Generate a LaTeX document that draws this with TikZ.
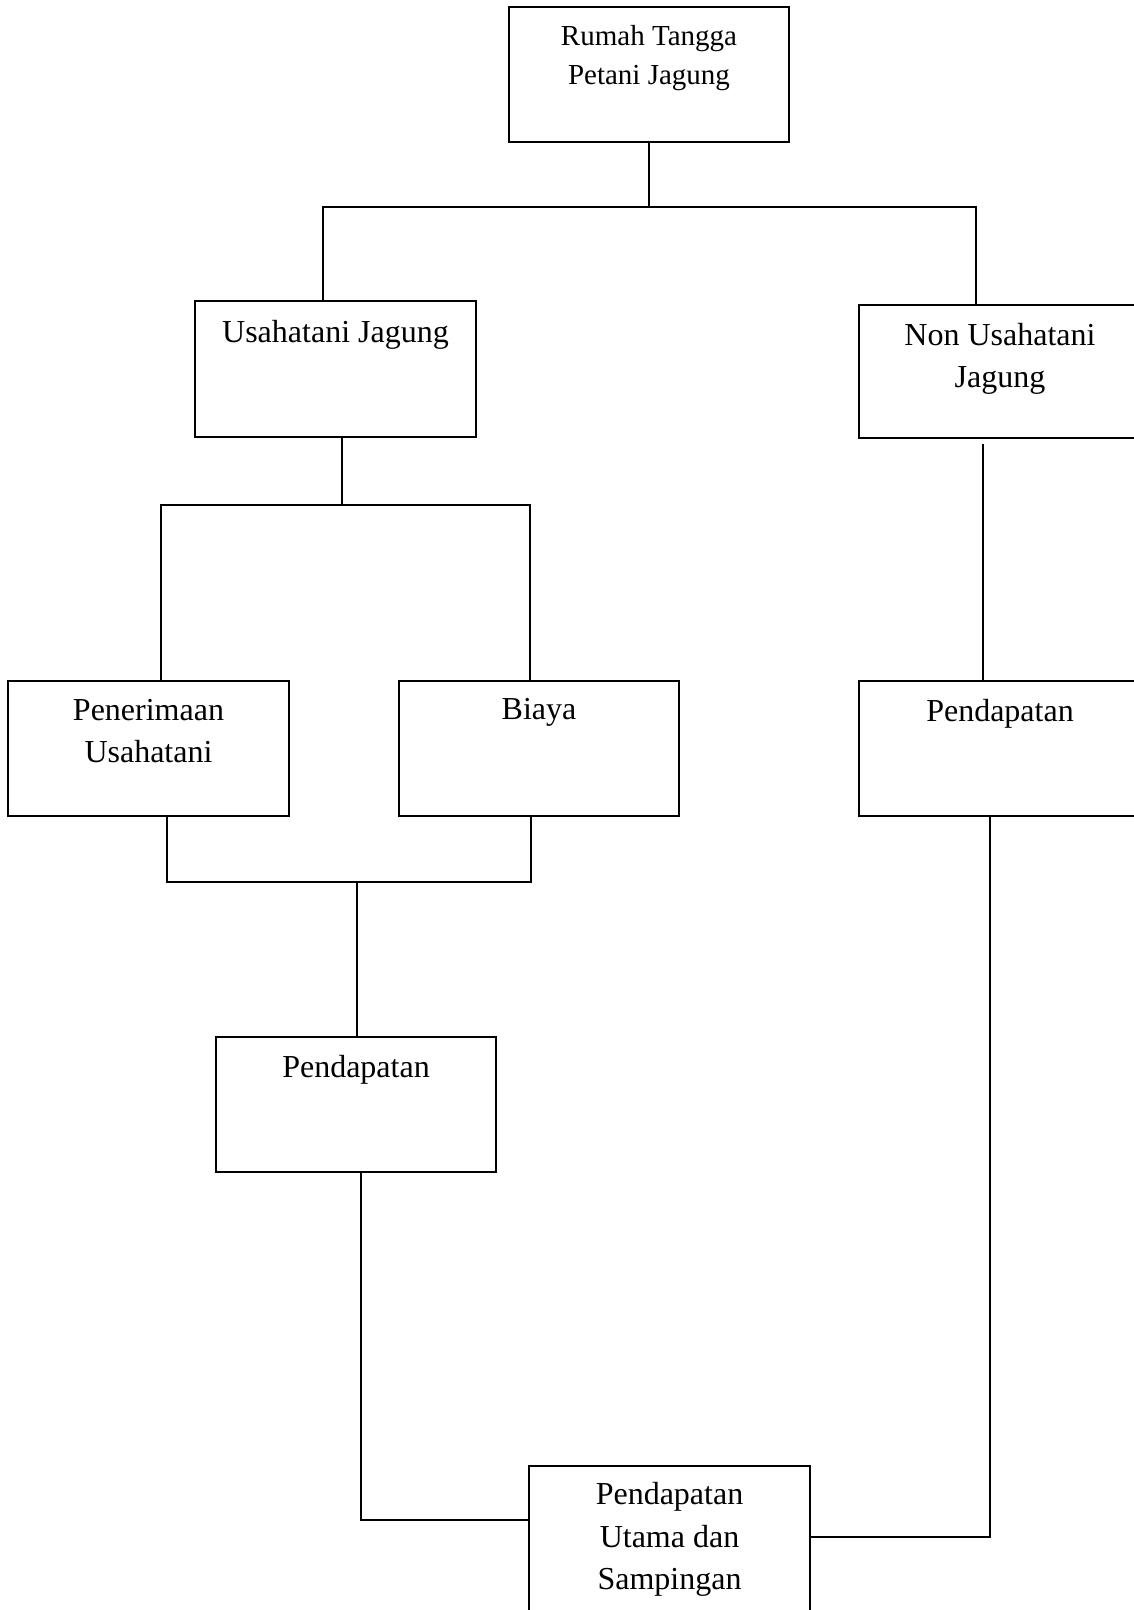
\documentclass[tikz,border=0pt]{standalone}
\usepackage{fontspec}
\setmainfont{Liberation Serif}
\tikzset{
  kotak/.style={draw, rectangle, line width=0.6pt, inner sep=0pt, minimum width=2.81cm, minimum height=1.35cm},
  teks/.style={anchor=base, align=center, inner sep=0pt, font=\fontsize{9.1}{12.2}\selectfont},
  garis/.style={line width=0.6pt}
}
\begin{document}
\begin{tikzpicture}[x=0.01cm, y=-0.01cm]
\useasboundingbox (0,0) rectangle (1134,1610);
\clip (0,0) rectangle (1134,1610);
\node[kotak, minimum width=2.80cm] (rumah) at (649,74.5) {};
\node[kotak, minimum height=1.36cm] (usaha) at (335.5,369) {};
\node[kotak, minimum width=2.82cm, minimum height=1.33cm] (non) at (1000,371.5) {};
\node[kotak] (terima) at (148.5,748.5) {};
\node[kotak, minimum width=2.80cm] (biaya) at (539,748.5) {};
\node[kotak, minimum width=2.82cm] (pendR) at (1000,748.5) {};
\node[kotak, minimum width=2.80cm] (pendL) at (356,1104.5) {};
\node[kotak, minimum height=1.50cm] (total) at (669.5,1541) {};
% base = baseline of the last line
\node[teks, font=\fontsize{8.25}{11.1}\selectfont] (trumah) at ([yshift=-0.79cm]rumah.north) {Rumah Tangga\\Petani Jagung};
\node[teks] (tusaha) at ([yshift=-0.43cm]usaha.north) {Usahatani Jagung};
\node[teks] (tnon) at ([yshift=-0.84cm]non.north) {Non Usahatani\\Jagung};
\node[teks] (tterima) at ([yshift=-0.83cm]terima.north) {Penerimaan\\Usahatani};
\node[teks] (tbiaya) at ([yshift=-0.40cm]biaya.north) {Biaya};
\node[teks] (tpendR) at ([yshift=-0.42cm]pendR.north) {Pendapatan};
\node[teks] (tpendL) at ([yshift=-0.42cm]pendL.north) {Pendapatan};
\node[teks] (ttotal) at ([yshift=-1.25cm]total.north) {Pendapatan\\Utama dan\\Sampingan};
\coordinate (b1l) at (323,207);
\coordinate (b1r) at (976,207);
\coordinate (c2) at (342,505);
\coordinate (b2l) at (161,505);
\coordinate (b2r) at (530,505);
\coordinate (c3) at (983,444);
\coordinate (b3l) at (167,882);
\coordinate (b3r) at (531,882);
\coordinate (c4) at (357,882);
\coordinate (c5) at (361,1520);
\coordinate (c6) at (990,1537);
\draw[garis] (rumah.south) -- (rumah.south |- b1l);
\draw[garis] (usaha.north -| b1l) |- (b1r) -- (non.north -| b1r);
\draw[garis] (usaha.south -| c2) -- (c2);
\draw[garis] (terima.north -| b2l) |- (b2r) -- (biaya.north -| b2r);
\draw[garis] (c3) -- (pendR.north -| c3);
\draw[garis] (terima.south -| b3l) |- (b3r) -- (biaya.south -| b3r);
\draw[garis] (c4) -- (pendL.north -| c4);
\draw[garis] (pendL.south -| c5) |- (total.west |- c5);
\draw[garis] (pendR.south -| c6) |- (total.east |- c6);
\end{tikzpicture}
\end{document}
